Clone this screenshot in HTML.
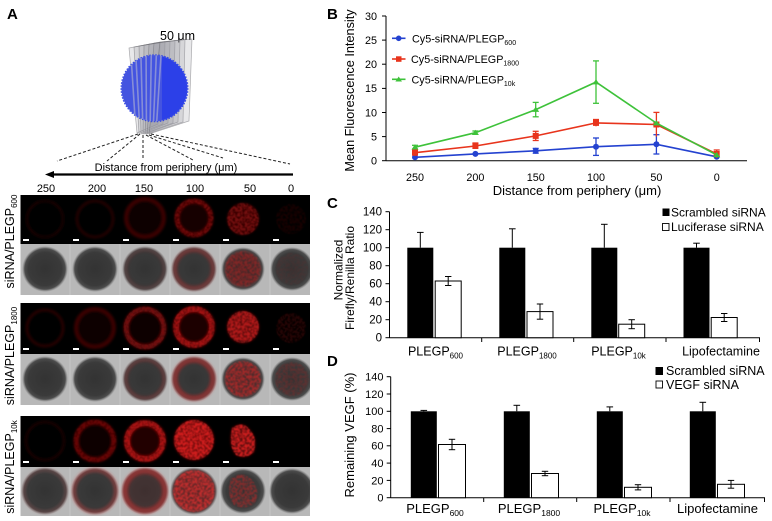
<!DOCTYPE html>
<html><head><meta charset="utf-8"><style>
html,body{margin:0;padding:0;background:#fff;}
svg{display:block;}
</style></head><body>
<svg width="772" height="521" viewBox="0 0 772 521" xmlns="http://www.w3.org/2000/svg" font-family="'Liberation Sans', Arial, sans-serif">
<defs>
<filter id="sb" x="-30%" y="-30%" width="160%" height="160%"><feGaussianBlur stdDeviation="1.4"/></filter>
<filter id="spk" x="-30%" y="-30%" width="160%" height="160%">
<feTurbulence type="fractalNoise" baseFrequency="0.42" numOctaves="2" seed="5" result="n"/>
<feColorMatrix in="n" type="matrix" values="0 0 0 0 0  0 0 0 0 0  0 0 0 0 0  0 0 0 3.2 -1.0" result="a"/>
<feComposite in="SourceGraphic" in2="a" operator="in" result="s"/>
<feGaussianBlur in="s" stdDeviation="0.6"/>
</filter>
<radialGradient id="gs"><stop offset="0" stop-color="#333"/><stop offset="0.72" stop-color="#3a3a3a"/><stop offset="0.88" stop-color="#4c4c4c"/><stop offset="1" stop-color="#777" stop-opacity="0"/></radialGradient>
<clipPath id="sph"><circle cx="154.5" cy="88.3" r="33"/></clipPath>
<clipPath id="mic"><rect x="20.5" y="195" width="289.5" height="321"/></clipPath>
</defs>
<rect width="772" height="521" fill="#fff"/>

<!-- ===== Panel A ===== -->
<text x="7" y="19" font-size="15" font-weight="bold">A</text>
<text x="160" y="40" font-size="12.5">50 μm</text>
<g fill="rgba(150,150,158,0.22)" stroke="rgba(110,110,115,0.55)" stroke-width="0.7">
<polygon points="129,48 160,42 158,124 137,133"/>
<polygon points="134,47 165,41.5 163,124 139,133.5"/>
<polygon points="139,46 170,41 168,123 141,134"/>
<polygon points="144,45 175,40.5 173,123 143,134"/>
<polygon points="149,44 180,40 178,122 145,134"/>
<polygon points="154,43 185,39.5 183,122 147,134"/>
<polygon points="160,42 192,39 189,121 149,134"/>
</g>
<circle cx="154.5" cy="88.3" r="33" fill="#2c40e8" stroke="#3448e6" stroke-width="2" stroke-dasharray="1.5 1.5"/>
<g clip-path="url(#sph)" stroke="rgba(190,190,210,0.55)" stroke-width="1.6">
<rect x="121" y="55" width="41" height="67" fill="rgba(140,145,200,0.25)" stroke="none"/>
<line x1="130" y1="40" x2="136" y2="133"/>
<line x1="135" y1="40" x2="140" y2="133"/>
<line x1="140.5" y1="40" x2="143" y2="133"/>
<line x1="146" y1="40" x2="146.5" y2="133"/>
<line x1="151.5" y1="40" x2="150" y2="133"/>
<line x1="157" y1="40" x2="153" y2="133"/>
<line x1="162" y1="40" x2="156" y2="133"/>
</g>
<g stroke="#222" stroke-width="1" stroke-dasharray="3 2" fill="none">
<line x1="138" y1="134" x2="57" y2="161"/>
<line x1="140" y1="134" x2="107" y2="161"/>
<line x1="143" y1="135" x2="143" y2="160"/>
<line x1="146" y1="135" x2="193" y2="160"/>
<line x1="149" y1="135" x2="223" y2="158"/>
<line x1="151" y1="134" x2="290" y2="164"/>
</g>
<text x="166" y="171" font-size="11" text-anchor="middle">Distance from periphery (μm)</text>
<line x1="52" y1="174.5" x2="293" y2="174.5" stroke="#000" stroke-width="2.2"/>
<polygon points="45,174.5 54,171 54,178" fill="#000"/>
<g font-size="11" text-anchor="middle">
<text x="46" y="192">250</text><text x="97" y="192">200</text><text x="144" y="192">150</text><text x="195" y="192">100</text><text x="250" y="192">50</text><text x="291" y="192">0</text>
</g>

<!-- microscopy strips -->
<g clip-path="url(#mic)">
<rect x="20.5" y="195" width="289.5" height="49" fill="#000"/>
<rect x="20.5" y="244" width="289.5" height="51" fill="#b8b8b8"/>
<rect x="20.5" y="303" width="289.5" height="51" fill="#000"/>
<rect x="20.5" y="354" width="289.5" height="51" fill="#b8b8b8"/>
<rect x="20.5" y="416" width="289.5" height="51" fill="#000"/>
<rect x="20.5" y="467" width="289.5" height="49" fill="#b8b8b8"/>
<g stroke="#c6c6c6" stroke-width="1">
<line x1="70" y1="244" x2="70" y2="295"/><line x1="120" y1="244" x2="120" y2="295"/><line x1="170" y1="244" x2="170" y2="295"/><line x1="220" y1="244" x2="220" y2="295"/><line x1="270" y1="244" x2="270" y2="295"/>
<line x1="70" y1="354" x2="70" y2="405"/><line x1="120" y1="354" x2="120" y2="405"/><line x1="170" y1="354" x2="170" y2="405"/><line x1="220" y1="354" x2="220" y2="405"/><line x1="270" y1="354" x2="270" y2="405"/>
<line x1="70" y1="467" x2="70" y2="516"/><line x1="120" y1="467" x2="120" y2="516"/><line x1="170" y1="467" x2="170" y2="516"/><line x1="220" y1="467" x2="220" y2="516"/><line x1="270" y1="467" x2="270" y2="516"/>
</g>

<!-- Row 1 black (600) -->
<circle cx="45" cy="219" r="18" fill="none" stroke="#140000" stroke-width="3" filter="url(#sb)"/>
<circle cx="95" cy="219" r="18" fill="none" stroke="#220000" stroke-width="3" filter="url(#sb)"/>
<circle cx="145" cy="218" r="19" fill="#0a0000" stroke="#3a0404" stroke-width="4" filter="url(#sb)"/>
<circle cx="194" cy="218" r="17" fill="#140000" stroke="#4a0606" stroke-width="5" filter="url(#sb)"/>
<circle cx="194" cy="218" r="17" fill="none" stroke="#a01515" stroke-width="5" opacity=".45" filter="url(#spk)"/>
<circle cx="243" cy="219" r="16" fill="#380606" filter="url(#sb)"/>
<circle cx="243" cy="219" r="16" fill="#b01c1c" opacity=".5" filter="url(#spk)"/>
<circle cx="291" cy="219" r="15" fill="#500000" opacity=".3" filter="url(#spk)"/>

<!-- Row 1 gray -->
<g fill="url(#gs)">
<circle cx="45" cy="269" r="23"/><circle cx="95" cy="269" r="23"/><circle cx="145" cy="269" r="23"/><circle cx="194" cy="269" r="23"/><circle cx="243" cy="269" r="22"/><circle cx="292" cy="269" r="22"/>
</g>
<circle cx="145" cy="269" r="19" fill="none" stroke="#8a1a1a" stroke-width="4" opacity=".15" filter="url(#sb)"/>
<circle cx="194" cy="269" r="19" fill="none" stroke="#b02020" stroke-width="5" opacity=".35" filter="url(#sb)"/>
<circle cx="243" cy="269" r="18" fill="#6a1010" opacity=".3" filter="url(#sb)"/>
<circle cx="243" cy="269" r="18" fill="#c82020" opacity=".45" filter="url(#spk)"/>
<circle cx="292" cy="269" r="16" fill="#9a1515" opacity=".12" filter="url(#spk)"/>

<!-- Row 2 black (1800) -->
<circle cx="45" cy="328" r="18" fill="none" stroke="#260000" stroke-width="3" filter="url(#sb)"/>
<circle cx="95" cy="328" r="19" fill="#080000" stroke="#3a0404" stroke-width="4" filter="url(#sb)"/>
<circle cx="145" cy="328" r="19" fill="#100000" stroke="#5a0808" stroke-width="5" filter="url(#sb)"/>
<circle cx="145" cy="328" r="19" fill="none" stroke="#b01010" stroke-width="5" opacity=".35" filter="url(#spk)"/>
<circle cx="194" cy="327" r="18" fill="#1e0202" stroke="#700808" stroke-width="6" filter="url(#sb)"/>
<circle cx="194" cy="327" r="18" fill="none" stroke="#d01414" stroke-width="6" opacity=".55" filter="url(#spk)"/>
<circle cx="243" cy="327" r="16" fill="#600a0a" filter="url(#sb)"/>
<circle cx="243" cy="327" r="16" fill="#e02020" opacity=".65" filter="url(#spk)"/>
<circle cx="291" cy="328" r="15" fill="#700a0a" opacity=".35" filter="url(#spk)"/>

<!-- Row 2 gray -->
<g fill="url(#gs)">
<circle cx="45" cy="379" r="23"/><circle cx="95" cy="379" r="23"/><circle cx="145" cy="379" r="23"/><circle cx="194" cy="379" r="23"/><circle cx="243" cy="379" r="22"/><circle cx="292" cy="379" r="22"/>
</g>
<circle cx="145" cy="379" r="19" fill="none" stroke="#a01c1c" stroke-width="4" opacity=".25" filter="url(#sb)"/>
<circle cx="194" cy="379" r="19" fill="none" stroke="#c82020" stroke-width="6" opacity=".45" filter="url(#sb)"/>
<circle cx="243" cy="379" r="18" fill="#7a1414" opacity=".3" filter="url(#sb)"/>
<circle cx="243" cy="379" r="18" fill="#e82626" opacity=".55" filter="url(#spk)"/>
<circle cx="292" cy="379" r="17" fill="#c01a1a" opacity=".25" filter="url(#spk)"/>

<!-- Row 3 black (10k) -->
<circle cx="45" cy="441" r="19" fill="none" stroke="#180000" stroke-width="3" filter="url(#sb)"/>
<circle cx="95" cy="441" r="19" fill="#0c0000" stroke="#500606" stroke-width="5" filter="url(#sb)"/>
<circle cx="95" cy="441" r="19" fill="none" stroke="#a01010" stroke-width="5" opacity=".35" filter="url(#spk)"/>
<circle cx="145" cy="441" r="18" fill="#200000" stroke="#7a0a0a" stroke-width="6" filter="url(#sb)"/>
<circle cx="145" cy="441" r="18" fill="none" stroke="#d81818" stroke-width="6" opacity=".55" filter="url(#spk)"/>
<circle cx="194" cy="440" r="20" fill="#780c0c" filter="url(#sb)"/>
<circle cx="194" cy="440" r="20" fill="#f02424" opacity=".75" filter="url(#spk)"/>
<path d="M232,428 Q243,420 250,430 Q258,438 254,452 Q246,460 236,455 Q228,446 232,428 Z" fill="#5a0a0a" filter="url(#sb)"/>
<path d="M232,428 Q243,420 250,430 Q258,438 254,452 Q246,460 236,455 Q228,446 232,428 Z" fill="#ff2626" opacity=".7" filter="url(#spk)"/>

<!-- Row 3 gray -->
<g fill="url(#gs)">
<circle cx="45" cy="491" r="24"/><circle cx="95" cy="491" r="24"/><circle cx="145" cy="491" r="24"/><circle cx="194" cy="491" r="24"/><circle cx="243" cy="491" r="23"/><circle cx="292" cy="491" r="23"/>
</g>
<circle cx="45" cy="491" r="21" fill="none" stroke="#a02020" stroke-width="4" opacity=".15" filter="url(#sb)"/>
<circle cx="95" cy="491" r="21" fill="none" stroke="#c82020" stroke-width="5" opacity=".3" filter="url(#sb)"/>
<circle cx="145" cy="491" r="20" fill="#7a1414" fill-opacity=".35" stroke="#d82424" stroke-width="6" opacity=".45" filter="url(#sb)"/>
<circle cx="194" cy="491" r="21" fill="#901818" opacity=".45" filter="url(#sb)"/>
<circle cx="194" cy="491" r="21" fill="#ff3030" opacity=".6" filter="url(#spk)"/>
<path d="M231,478 Q243,470 252,480 Q261,490 255,503 Q245,511 234,505 Q226,494 231,478 Z" fill="#d02222" opacity=".5" filter="url(#spk)"/>

<!-- scale bars -->
<g fill="#fff">
<rect x="23" y="239" width="6" height="2"/><rect x="73" y="239" width="6" height="2"/><rect x="123" y="239" width="6" height="2"/><rect x="173" y="239" width="6" height="2"/><rect x="223" y="239" width="6" height="2"/><rect x="273" y="239" width="6" height="2"/>
<rect x="23" y="348" width="6" height="2"/><rect x="73" y="348" width="6" height="2"/><rect x="123" y="348" width="6" height="2"/><rect x="173" y="348" width="6" height="2"/><rect x="223" y="348" width="6" height="2"/><rect x="273" y="348" width="6" height="2"/>
<rect x="23" y="461" width="6" height="2"/><rect x="73" y="461" width="6" height="2"/><rect x="123" y="461" width="6" height="2"/><rect x="173" y="461" width="6" height="2"/><rect x="223" y="461" width="6" height="2"/><rect x="273" y="461" width="6" height="2"/>
</g>
</g>

<!-- row labels -->
<g font-size="12.5" text-anchor="middle">
<text transform="translate(14,241.5) rotate(-90)">siRNA/PLEGP<tspan font-size="8" dy="3">600</tspan></text>
<text transform="translate(14,356) rotate(-90)">siRNA/PLEGP<tspan font-size="8" dy="3">1800</tspan></text>
<text transform="translate(14,467) rotate(-90)">siRNA/PLEGP<tspan font-size="8" dy="3">10k</tspan></text>
</g>

<!-- ===== Panel B ===== -->
<text x="327" y="19" font-size="15" font-weight="bold">B</text>
<g stroke="#000" stroke-width="1" fill="none">
<line x1="386" y1="16" x2="386" y2="161"/>
<line x1="386" y1="160.7" x2="747" y2="160.7"/>
<line x1="382" y1="16" x2="386" y2="16"/><line x1="382" y1="40.1" x2="386" y2="40.1"/><line x1="382" y1="64.2" x2="386" y2="64.2"/><line x1="382" y1="88.4" x2="386" y2="88.4"/><line x1="382" y1="112.5" x2="386" y2="112.5"/><line x1="382" y1="136.6" x2="386" y2="136.6"/><line x1="382" y1="160.7" x2="386" y2="160.7"/>
</g>
<g font-size="10.8" text-anchor="end">
<text x="377" y="19.8">30</text><text x="377" y="43.9">25</text><text x="377" y="68">20</text><text x="377" y="92.2">15</text><text x="377" y="116.3">10</text><text x="377" y="140.4">5</text><text x="377" y="164.5">0</text>
</g>
<g font-size="10.8" text-anchor="middle">
<text x="415" y="181">250</text><text x="475.4" y="181">200</text><text x="535.7" y="181">150</text><text x="596" y="181">100</text><text x="656.4" y="181">50</text><text x="716.7" y="181">0</text>
</g>
<text x="577" y="195" font-size="13" text-anchor="middle">Distance from periphery (μm)</text>
<text transform="translate(354,90.5) rotate(-90)" font-size="12.7" text-anchor="middle">Mean Fluorescence Intensity</text>

<g stroke="#2442d0" stroke-width="1.3" fill="none">
<polyline points="415,157.3 475.4,153.9 535.7,150.8 596,146.7 656.4,144.3 716.7,156.8" stroke-width="1.6"/>
<line x1="415" y1="155.9" x2="415" y2="158.8"/><line x1="475.4" y1="152.4" x2="475.4" y2="155.3"/>
<line x1="535.7" y1="148.4" x2="535.7" y2="153.2"/><line x1="532.7" y1="148.4" x2="538.7" y2="148.4"/><line x1="532.7" y1="153.2" x2="538.7" y2="153.2"/>
<line x1="596" y1="138" x2="596" y2="155.4"/><line x1="593" y1="138" x2="599" y2="138"/><line x1="593" y1="155.4" x2="599" y2="155.4"/>
<line x1="656.4" y1="134.7" x2="656.4" y2="154"/><line x1="653.4" y1="134.7" x2="659.4" y2="134.7"/><line x1="653.4" y1="154" x2="659.4" y2="154"/>
</g>
<g fill="#2442d0">
<circle cx="415" cy="157.3" r="3"/><circle cx="475.4" cy="153.9" r="3"/><circle cx="535.7" cy="150.8" r="3"/><circle cx="596" cy="146.7" r="3"/><circle cx="656.4" cy="144.3" r="3"/><circle cx="716.7" cy="156.8" r="3"/>
</g>
<g stroke="#e8341c" stroke-width="1.3" fill="none">
<polyline points="415,152.7 475.4,146 535.7,135.9 596,122.9 656.4,124.5 716.7,154" stroke-width="1.6"/>
<line x1="415" y1="149.3" x2="415" y2="156"/><line x1="412" y1="149.3" x2="418" y2="149.3"/>
<line x1="475.4" y1="143" x2="475.4" y2="149"/><line x1="472.4" y1="143" x2="478.4" y2="143"/>
<line x1="535.7" y1="131.3" x2="535.7" y2="140.5"/><line x1="532.7" y1="131.3" x2="538.7" y2="131.3"/><line x1="532.7" y1="140.5" x2="538.7" y2="140.5"/>
<line x1="596" y1="119.5" x2="596" y2="126.3"/><line x1="593" y1="119.5" x2="599" y2="119.5"/>
<line x1="656.4" y1="112.4" x2="656.4" y2="136.6"/><line x1="653.4" y1="112.4" x2="659.4" y2="112.4"/>
<line x1="716.7" y1="150" x2="716.7" y2="158"/><line x1="713.7" y1="150" x2="719.7" y2="150"/>
</g>
<g fill="#e8341c">
<rect x="412" y="149.7" width="6" height="6"/><rect x="472.4" y="143" width="6" height="6"/><rect x="532.7" y="132.9" width="6" height="6"/><rect x="593" y="119.9" width="6" height="6"/><rect x="653.4" y="121.5" width="6" height="6"/><rect x="713.7" y="151" width="6" height="6"/>
</g>
<g stroke="#3ec23a" stroke-width="1.3" fill="none">
<polyline points="415,147.2 475.4,132.7 535.7,109.6 596,82.1 656.4,123.1 716.7,154.9" stroke-width="1.6"/>
<line x1="415" y1="145.3" x2="415" y2="149.1"/><line x1="412" y1="145.3" x2="418" y2="145.3"/>
<line x1="475.4" y1="131" x2="475.4" y2="134.4"/><line x1="472.4" y1="131" x2="478.4" y2="131"/>
<line x1="535.7" y1="102.4" x2="535.7" y2="116.8"/><line x1="532.7" y1="102.4" x2="538.7" y2="102.4"/><line x1="532.7" y1="116.8" x2="538.7" y2="116.8"/>
<line x1="596" y1="60.9" x2="596" y2="103.3"/><line x1="593" y1="60.9" x2="599" y2="60.9"/><line x1="593" y1="103.3" x2="599" y2="103.3"/>
</g>
<g fill="#3ec23a">
<polygon points="415,144.2 418.5,149.5 411.5,149.5"/><polygon points="475.4,129.7 478.9,135 471.9,135"/><polygon points="535.7,106.6 539.2,111.9 532.2,111.9"/><polygon points="596,79.1 599.5,84.4 592.5,84.4"/><polygon points="656.4,120.1 659.9,125.4 652.9,125.4"/><polygon points="716.7,151.9 720.2,157.2 713.2,157.2"/>
</g>
<line x1="392" y1="38.3" x2="405.5" y2="38.3" stroke="#2442d0" stroke-width="1.6"/><circle cx="398.7" cy="38.3" r="2.8" fill="#2442d0"/>
<line x1="392" y1="59" x2="405.5" y2="59" stroke="#e8341c" stroke-width="1.6"/><rect x="396" y="56.3" width="5.5" height="5.5" fill="#e8341c"/>
<line x1="392" y1="79.3" x2="405.5" y2="79.3" stroke="#3ec23a" stroke-width="1.6"/><polygon points="398.7,76.5 402,81.5 395.4,81.5" fill="#3ec23a"/>
<g font-size="10.8">
<text x="412" y="42.3">Cy5-siRNA/PLEGP<tspan font-size="7" dy="2.5">600</tspan></text>
<text x="411" y="63">Cy5-siRNA/PLEGP<tspan font-size="7" dy="2.5">1800</tspan></text>
<text x="411.5" y="83.3">Cy5-siRNA/PLEGP<tspan font-size="7" dy="2.5">10k</tspan></text>
</g>

<!-- ===== Panel C ===== -->
<text x="327" y="208" font-size="15" font-weight="bold">C</text>
<g stroke="#000" stroke-width="1">
<line x1="389.5" y1="211.7" x2="389.5" y2="338"/>
<line x1="389.5" y1="337.7" x2="760" y2="337.7"/>
<line x1="385.5" y1="211.7" x2="389.5" y2="211.7"/><line x1="385.5" y1="229.7" x2="389.5" y2="229.7"/><line x1="385.5" y1="247.7" x2="389.5" y2="247.7"/><line x1="385.5" y1="265.7" x2="389.5" y2="265.7"/><line x1="385.5" y1="283.7" x2="389.5" y2="283.7"/><line x1="385.5" y1="301.7" x2="389.5" y2="301.7"/><line x1="385.5" y1="319.7" x2="389.5" y2="319.7"/><line x1="385.5" y1="337.7" x2="389.5" y2="337.7"/>
<line x1="481.7" y1="337.7" x2="481.7" y2="342"/><line x1="573.7" y1="337.7" x2="573.7" y2="342"/><line x1="666" y1="337.7" x2="666" y2="342"/><line x1="759.5" y1="337.7" x2="759.5" y2="342"/>
</g>
<g font-size="11.5" text-anchor="end">
<text x="382" y="215.7">140</text><text x="382" y="233.7">120</text><text x="382" y="251.7">100</text><text x="382" y="269.7">80</text><text x="382" y="287.7">60</text><text x="382" y="305.7">40</text><text x="382" y="323.7">20</text><text x="382" y="341.7">0</text>
</g>
<g font-size="12" text-anchor="middle">
<text transform="translate(342.5,270) rotate(-90)">Normalized</text>
<text transform="translate(354,278) rotate(-90)">Firefly/Renilla  Ratio</text>
</g>
<g fill="#000">
<rect x="407.3" y="247.7" width="26" height="90"/><rect x="499.3" y="247.7" width="26" height="90"/><rect x="591.3" y="247.7" width="26" height="90"/><rect x="683.5" y="247.7" width="26" height="90"/>
</g>
<g fill="#fff" stroke="#000" stroke-width="1">
<rect x="435.2" y="281" width="26" height="56.7"/><rect x="527" y="311.6" width="26" height="26.1"/><rect x="618.7" y="324.2" width="26" height="13.5"/><rect x="711.2" y="317.5" width="26" height="20.2"/>
</g>
<g stroke="#000" stroke-width="1" fill="none">
<line x1="420.3" y1="247.7" x2="420.3" y2="232.4"/><line x1="417" y1="232.4" x2="423.6" y2="232.4"/>
<line x1="512.3" y1="247.7" x2="512.3" y2="228.8"/><line x1="509" y1="228.8" x2="515.6" y2="228.8"/>
<line x1="604.3" y1="247.7" x2="604.3" y2="224.3"/><line x1="601" y1="224.3" x2="607.6" y2="224.3"/>
<line x1="696.5" y1="247.7" x2="696.5" y2="243.2"/><line x1="693.2" y1="243.2" x2="699.8" y2="243.2"/>
<line x1="448.2" y1="276.5" x2="448.2" y2="285.5"/><line x1="445" y1="276.5" x2="451.4" y2="276.5"/><line x1="445" y1="285.5" x2="451.4" y2="285.5"/>
<line x1="540" y1="304" x2="540" y2="319.2"/><line x1="536.8" y1="304" x2="543.2" y2="304"/><line x1="536.8" y1="319.2" x2="543.2" y2="319.2"/>
<line x1="631.7" y1="319.7" x2="631.7" y2="328.7"/><line x1="628.5" y1="319.7" x2="634.9" y2="319.7"/><line x1="628.5" y1="328.7" x2="634.9" y2="328.7"/>
<line x1="724.2" y1="313.5" x2="724.2" y2="321.5"/><line x1="721" y1="313.5" x2="727.4" y2="313.5"/><line x1="721" y1="321.5" x2="727.4" y2="321.5"/>
</g>
<g font-size="12.5" text-anchor="middle">
<text x="435.5" y="355.5">PLEGP<tspan font-size="8" dy="3">600</tspan></text>
<text x="527" y="355.5">PLEGP<tspan font-size="8" dy="3">1800</tspan></text>
<text x="618.5" y="355.5">PLEGP<tspan font-size="8" dy="3">10k</tspan></text>
<text x="721" y="355.5">Lipofectamine</text>
</g>
<rect x="662.5" y="208.5" width="7" height="7.5" fill="#000"/>
<rect x="662.5" y="223.5" width="6.5" height="7" fill="#fff" stroke="#000" stroke-width="0.9"/>
<g font-size="12"><text x="671" y="216.5">Scrambled siRNA</text><text x="671" y="231">Luciferase siRNA</text></g>

<!-- ===== Panel D ===== -->
<text x="327" y="366" font-size="15" font-weight="bold">D</text>
<g stroke="#000" stroke-width="1">
<line x1="390.7" y1="376.7" x2="390.7" y2="498"/>
<line x1="390.7" y1="497.7" x2="765" y2="497.7"/>
<line x1="386.7" y1="376.7" x2="390.7" y2="376.7"/><line x1="386.7" y1="394" x2="390.7" y2="394"/><line x1="386.7" y1="411.3" x2="390.7" y2="411.3"/><line x1="386.7" y1="428.6" x2="390.7" y2="428.6"/><line x1="386.7" y1="445.8" x2="390.7" y2="445.8"/><line x1="386.7" y1="463.1" x2="390.7" y2="463.1"/><line x1="386.7" y1="480.4" x2="390.7" y2="480.4"/><line x1="386.7" y1="497.7" x2="390.7" y2="497.7"/>
<line x1="483.7" y1="497.7" x2="483.7" y2="502"/><line x1="576.7" y1="497.7" x2="576.7" y2="502"/><line x1="670" y1="497.7" x2="670" y2="502"/><line x1="764.5" y1="497.7" x2="764.5" y2="502"/>
</g>
<g font-size="11" text-anchor="end">
<text x="383.5" y="380.6">140</text><text x="383.5" y="397.9">120</text><text x="383.5" y="415.2">100</text><text x="383.5" y="432.5">80</text><text x="383.5" y="449.7">60</text><text x="383.5" y="467">40</text><text x="383.5" y="484.3">20</text><text x="383.5" y="501.6">0</text>
</g>
<text transform="translate(354,435) rotate(-90)" font-size="13" text-anchor="middle">Remaining VEGF (%)</text>
<g fill="#000">
<rect x="410.8" y="411.3" width="26" height="86.4"/><rect x="503.8" y="411.3" width="26" height="86.4"/><rect x="596.8" y="411.3" width="26" height="86.4"/><rect x="689.8" y="411.3" width="26" height="86.4"/>
</g>
<g fill="#fff" stroke="#000" stroke-width="1">
<rect x="438.5" y="444.5" width="27" height="53.2"/><rect x="531.5" y="473.5" width="27" height="24.2"/><rect x="624.5" y="487.3" width="27" height="10.4"/><rect x="717.5" y="484.3" width="27" height="13.4"/>
</g>
<g stroke="#000" stroke-width="1" fill="none">
<line x1="423.8" y1="411.3" x2="423.8" y2="410.4"/><line x1="420.5" y1="410.4" x2="427.1" y2="410.4"/>
<line x1="516.8" y1="411.3" x2="516.8" y2="405.3"/><line x1="513.5" y1="405.3" x2="520.1" y2="405.3"/>
<line x1="609.8" y1="411.3" x2="609.8" y2="406.9"/><line x1="606.5" y1="406.9" x2="613.1" y2="406.9"/>
<line x1="702.8" y1="411.3" x2="702.8" y2="402.3"/><line x1="699.5" y1="402.3" x2="706.1" y2="402.3"/>
<line x1="452" y1="439.3" x2="452" y2="449.7"/><line x1="448.8" y1="439.3" x2="455.2" y2="439.3"/><line x1="448.8" y1="449.7" x2="455.2" y2="449.7"/>
<line x1="545" y1="471.3" x2="545" y2="475.7"/><line x1="541.8" y1="471.3" x2="548.2" y2="471.3"/><line x1="541.8" y1="475.7" x2="548.2" y2="475.7"/>
<line x1="638" y1="484.7" x2="638" y2="489.9"/><line x1="634.8" y1="484.7" x2="641.2" y2="484.7"/><line x1="634.8" y1="489.9" x2="641.2" y2="489.9"/>
<line x1="731" y1="480.4" x2="731" y2="488.2"/><line x1="727.8" y1="480.4" x2="734.2" y2="480.4"/><line x1="727.8" y1="488.2" x2="734.2" y2="488.2"/>
</g>
<g font-size="13" text-anchor="middle">
<text x="435" y="513">PLEGP<tspan font-size="8.5" dy="3">600</tspan></text>
<text x="529" y="513">PLEGP<tspan font-size="8.5" dy="3">1800</tspan></text>
<text x="622" y="513">PLEGP<tspan font-size="8.5" dy="3">10k</tspan></text>
<text x="717.5" y="513">Lipofectamine</text>
</g>
<rect x="655.5" y="367" width="7.5" height="8" fill="#000"/>
<rect x="656" y="381" width="6.5" height="7" fill="#fff" stroke="#000" stroke-width="0.9"/>
<g font-size="12.5"><text x="666" y="375">Scrambled siRNA</text><text x="666" y="389">VEGF siRNA</text></g>
</svg>
</body></html>
